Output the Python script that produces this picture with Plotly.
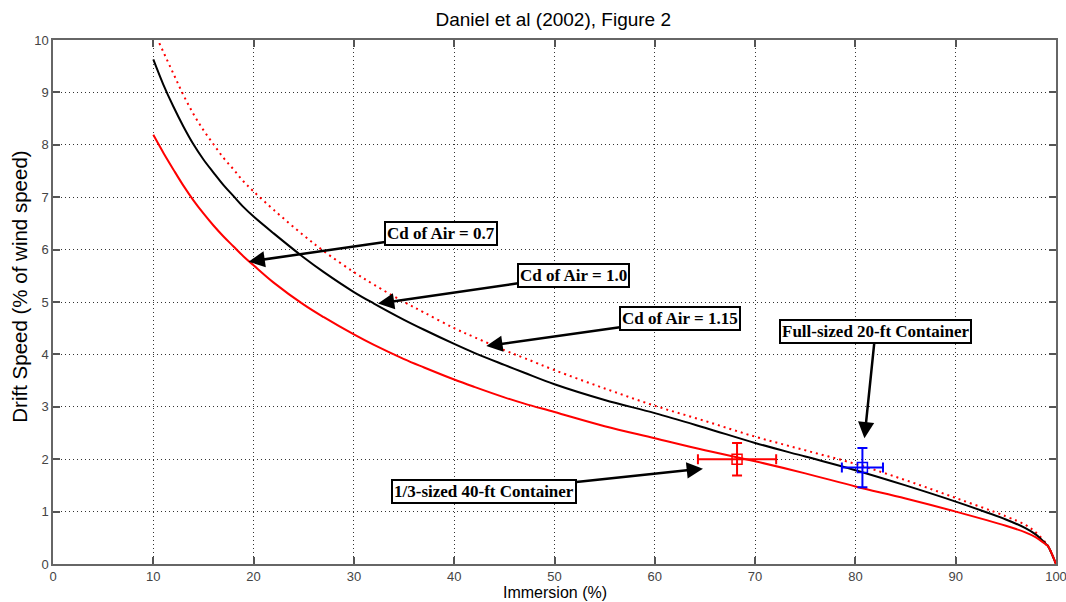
import plotly.graph_objects as go

# ---- data ----
imm_red = [10, 11, 12, 13, 14, 15, 16, 17, 18, 19, 20, 22, 25, 27, 30, 32, 35, 37, 40, 42, 45, 47, 50, 55, 60, 65, 70, 75, 80, 85, 90, 95, 97, 98, 99, 99.2, 100]
drift_cd07 = [8.19, 7.85, 7.53, 7.22, 6.94, 6.69, 6.46, 6.25, 6.06, 5.87, 5.70, 5.37, 4.95, 4.71, 4.38, 4.18, 3.91, 3.75, 3.52, 3.38, 3.18, 3.06, 2.90, 2.63, 2.40, 2.17, 1.96, 1.73, 1.48, 1.25, 1.00, 0.73, 0.60, 0.51, 0.37, 0.34, 0.0]

imm_blk = [10, 11, 12, 13, 14, 15, 16, 17, 18, 19, 20, 22, 25, 27, 30, 32, 35, 37, 40, 42, 45, 47, 50, 55, 60, 65, 70, 75, 80, 85, 90, 95, 97, 98, 99, 99.2, 100]
drift_cd10 = [9.63, 9.15, 8.73, 8.35, 8.01, 7.72, 7.47, 7.23, 7.02, 6.81, 6.63, 6.31, 5.85, 5.57, 5.19, 4.97, 4.66, 4.47, 4.20, 4.03, 3.80, 3.65, 3.43, 3.13, 2.88, 2.60, 2.31, 2.05, 1.79, 1.50, 1.19, 0.85, 0.68, 0.56, 0.38, 0.34, 0.0]

imm_dot = [10.6, 12, 13, 14, 15, 16, 17, 18, 19, 20, 22, 25, 27, 30, 32, 35, 37, 40, 42, 45, 47, 50, 55, 60, 65, 70, 75, 80, 85, 90, 95, 97, 98, 99, 99.2, 100]
drift_cd115 = [9.94, 9.36, 8.95, 8.59, 8.28, 8.01, 7.75, 7.53, 7.30, 7.11, 6.76, 6.27, 5.97, 5.57, 5.33, 5.0, 4.80, 4.50, 4.33, 4.08, 3.93, 3.70, 3.35, 3.02, 2.73, 2.43, 2.17, 1.91, 1.60, 1.26, 0.91, 0.74, 0.60, 0.40, 0.35, 0.0]

# observations
obs40_x, obs40_y, obs40_xerr, obs40_yerr = [68.2], [2.0], [3.9], [0.31]
obs20_x, obs20_y, obs20_xerr, obs20_yerr = [80.7], [1.84], [2.05], [0.375]

x_ticks = list(range(0, 101, 10))
y_ticks = list(range(0, 11, 1))

# annotations: text, box centre (ax, ay), arrow head (x, y)
ann_text = ["Cd of Air = 0.7", "Cd of Air = 1.0", "Cd of Air = 1.15",
            "Full-sized 20-ft Container", "1/3-sized 40-ft Container"]
ann_box_x = [38.7, 51.9, 62.5, 82.0, 43.0]
ann_box_y = [6.30, 5.51, 4.68, 4.44, 1.38]
ann_head_x = [19.5, 32.4, 43.2, 80.9, 64.8]
ann_head_y = [5.77, 4.97, 4.16, 2.40, 1.82]

fig = go.Figure()
fig.add_trace(go.Scatter(x=imm_dot, y=drift_cd115, mode="lines", line_shape="spline",
                         line=dict(color="red", width=2, dash="2px,4px"), name="Cd 1.15"))
fig.add_trace(go.Scatter(x=imm_blk, y=drift_cd10, mode="lines", line_shape="spline",
                         line=dict(color="black", width=2), name="Cd 1.0"))
fig.add_trace(go.Scatter(x=imm_red, y=drift_cd07, mode="lines", line_shape="spline",
                         line=dict(color="red", width=2), name="Cd 0.7"))
fig.add_trace(go.Scatter(x=obs40_x, y=obs40_y, mode="markers",
                         marker=dict(symbol="square-open", size=10, color="red", line=dict(width=1.5)),
                         error_x=dict(type="data", array=obs40_xerr, color="red", thickness=2, width=5),
                         error_y=dict(type="data", array=obs40_yerr, color="red", thickness=2, width=5),
                         name="40-ft"))
fig.add_trace(go.Scatter(x=obs20_x, y=obs20_y, mode="markers",
                         marker=dict(symbol="square-open", size=10, color="blue", line=dict(width=1.5)),
                         error_x=dict(type="data", array=obs20_xerr, color="blue", thickness=2, width=5),
                         error_y=dict(type="data", array=obs20_yerr, color="blue", thickness=2, width=5),
                         name="20-ft"))

annotations = []
for t, bx, by, hx, hy in zip(ann_text, ann_box_x, ann_box_y, ann_head_x, ann_head_y):
    annotations.append(dict(
        text="<b>" + t + "</b>", x=hx, y=hy, ax=bx, ay=by,
        xref="x", yref="y", axref="x", ayref="y",
        showarrow=True, arrowhead=2, arrowsize=1.3, arrowwidth=2.5, arrowcolor="black",
        font=dict(family="Liberation Serif", size=17, color="black"),
        bgcolor="white", bordercolor="black", borderwidth=2, borderpad=1,
    ))

annotations.append(dict(text="Immersion (%)", xref="paper", yref="paper", x=0.5, y=-0.055,
                        xanchor="center", yanchor="middle", showarrow=False,
                        font=dict(family="Liberation Sans", size=16, color="black")))
annotations.append(dict(text="Drift Speed (% of wind speed)", xref="paper", yref="paper", x=-0.033, y=0.529,
                        xanchor="center", yanchor="middle", showarrow=False, textangle=-90,
                        font=dict(family="Liberation Sans", size=20.5, color="black")))

axis_common = dict(showgrid=True, gridcolor="#333", griddash="1px,3px", gridwidth=1,
                   ticks="inside", ticklen=7, tickcolor="#555", tickwidth=1.5,
                   showline=True, linecolor="#666", linewidth=1.5, mirror="allticks",
                   zeroline=False, automargin=False, ticklabeloverflow="allow",
                   tickfont=dict(family="Liberation Sans", size=13, color="#444"))

fig.update_layout(
    width=1066, height=602,
    margin=dict(l=53, r=10, t=40, b=38),
    paper_bgcolor="white", plot_bgcolor="white",
    showlegend=False,
    title=dict(text="Daniel et al (2002), Figure 2", x=0.519, xanchor="center", y=0.968, yanchor="middle",
               font=dict(family="Liberation Sans", size=19, color="black")),
    xaxis=dict(range=[0, 100], tickvals=x_ticks, **axis_common),
    yaxis=dict(range=[0, 10], tickvals=y_ticks, **axis_common),
    annotations=annotations,
)

fig.write_html("out.html")
